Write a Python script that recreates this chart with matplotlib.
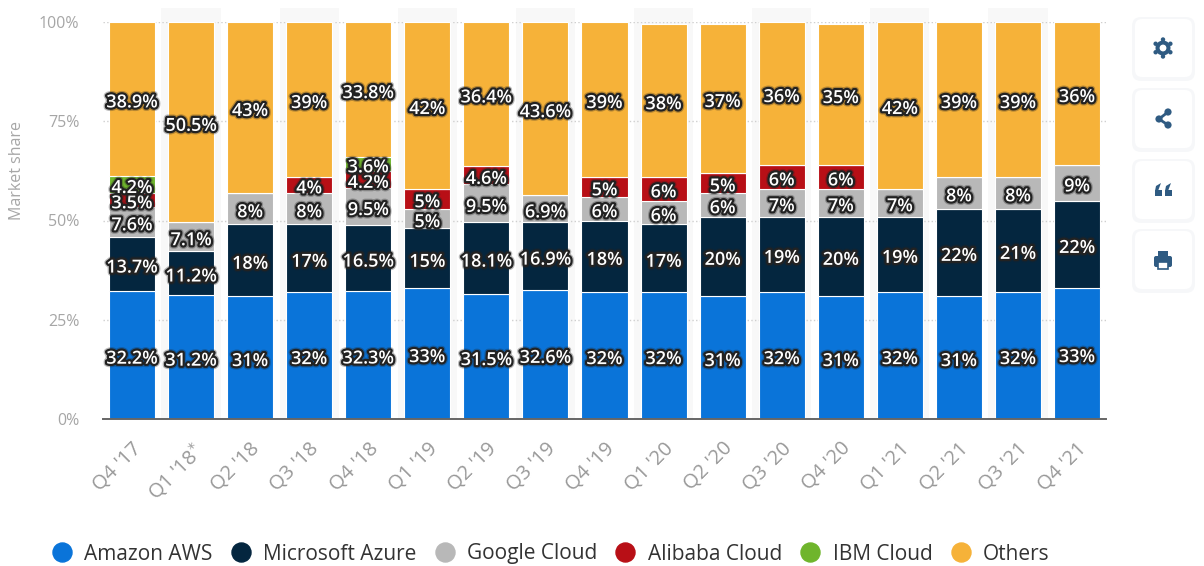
import matplotlib
matplotlib.use("Agg")
import matplotlib.pyplot as plt
import matplotlib.patheffects as pe
from matplotlib.lines import Line2D
from matplotlib.patches import Circle, FancyBboxPatch, Rectangle, Polygon
import numpy as np

plt.rcParams["font.family"] = ["Open Sans", "DejaVu Sans"]

quarters = ["Q4 '17", "Q1 '18$^{*}$", "Q2 '18", "Q3 '18", "Q4 '18", "Q1 '19", "Q2 '19", "Q3 '19", "Q4 '19",
            "Q1 '20", "Q2 '20", "Q3 '20", "Q4 '20", "Q1 '21", "Q2 '21", "Q3 '21", "Q4 '21"]
aws = [32.2, 31.2, 31, 32, 32.3, 33, 31.5, 32.6, 32, 32, 31, 32, 31, 32, 31, 32, 33]
azure = [13.7, 11.2, 18, 17, 16.5, 15, 18.1, 16.9, 18, 17, 20, 19, 20, 19, 22, 21, 22]
google = [7.6, 7.1, 8, 8, 9.5, 5, 9.5, 6.9, 6, 6, 6, 7, 7, 7, 8, 8, 9]
alibaba = [3.5, 0, 0, 4, 4.2, 5, 4.6, 0, 5, 6, 5, 6, 6, 0, 0, 0, 0]
ibm = [4.2, 0, 0, 0, 3.6, 0, 0, 0, 0, 0, 0, 0, 0, 0, 0, 0, 0]
# bar heights as drawn; the printed labels are rounded in three quarters
others = [38.9, 50.5, 43, 39, 33.8, 42, 36.4, 43.6, 39, 38.4, 37.5, 36, 35.5, 42, 39, 39, 36]
others_labels = ["38.9%", "50.5%", "43%", "39%", "33.8%", "42%", "36.4%", "43.6%", "39%",
                 "38%", "37%", "36%", "35%", "42%", "39%", "39%", "36%"]

series = [
    ("Amazon AWS", aws, "#0a74d9"),
    ("Microsoft Azure", azure, "#04263f"),
    ("Google Cloud", google, "#b8b8b8"),
    ("Alibaba Cloud", alibaba, "#b80f16"),
    ("IBM Cloud", ibm, "#6fb52c"),
    ("Others", others, "#f6b239"),
]

W, H = 1204, 566
fig = plt.figure(figsize=(W / 100, H / 100), dpi=100, facecolor="white")

# axes box in pixels: left 103, right 1106, baseline 419, 100% at 22
ax = fig.add_axes([103 / W, (H - 419) / H, (1106 - 103) / W, (419 - 22) / H])
x = np.arange(len(quarters))
ax.set_xlim(-0.49, 16.49)
ax.set_ylim(0, 100)

# alternating column bands
for i in x[1::2]:
    ax.axvspan(i - 0.5, i + 0.5, ymin=0, ymax=1.035, color="#f8f8f8", lw=0, zorder=0, clip_on=False)

ax.set_yticks([0, 25, 50, 75, 100])
ax.set_yticklabels(["0%", "25%", "50%", "75%", "100%"])
ax.yaxis.grid(True, color="#cfcfcf", ls=":", lw=1, zorder=1)
ax.set_axisbelow(True)

halo = [pe.withStroke(linewidth=5, foreground="#222222", alpha=0.3),
        pe.withStroke(linewidth=3.2, foreground="#222222")]

bottom = np.zeros(len(quarters))
for name, vals, col in series:
    vals = np.array(vals, dtype=float)
    ax.bar(x, vals, 0.78, bottom=bottom, color=col, edgecolor="white", linewidth=0.8, zorder=2)
    for xi, b, v in zip(x, bottom, vals):
        if v > 0:
            txt = others_labels[xi] if name == "Others" else f"{v:g}%"
            ax.annotate(txt, (xi, b + v / 2), xytext=(0, -2.6), textcoords="offset points",
                        ha="center", va="center", color="white", fontsize=13,
                        fontweight="semibold", zorder=5, path_effects=halo)
    bottom += vals

for s in ["top", "right", "left"]:
    ax.spines[s].set_visible(False)
ax.spines["bottom"].set_color("#666666")
ax.spines["bottom"].set_linewidth(1.4)
ax.spines["bottom"].set_zorder(6)

ax.set_xticks(x)
ax.set_xticklabels(quarters, rotation=45, ha="right", rotation_mode="anchor")
ax.tick_params(axis="x", length=0, pad=14, labelsize=14.5, labelcolor="#999999")
ax.tick_params(axis="y", length=0, pad=17, labelsize=11.5, labelcolor="#a6a6a6")
ax.set_ylabel("Market share", fontsize=11.5, color="#a6a6a6", labelpad=0)
ax.yaxis.set_label_coords((25 - 103) / (1106 - 103), 0.627)

handles = [Line2D([], [], ls="", marker="o", ms=13.7, mfc=c, mec=c, label=n) for n, _, c in series]
fig.legend(handles=handles, ncol=6, frameon=False, loc="center left",
           bbox_to_anchor=(47 / W, (H - 554) / H), prop={"size": 15, "weight": "medium"}, labelcolor="#333333",
           handletextpad=0.38, columnspacing=0.65, handlelength=1.4, borderpad=0, borderaxespad=0)

# toolbar buttons on the right, drawn in pixel coordinates
ui = fig.add_axes([0, 0, 1, 1], zorder=10)
ui.set_xlim(0, W)
ui.set_ylim(H, 0)
ui.axis("off")
ui.patch.set_alpha(0)
icon = "#2f5b82"
for top in [19, 90, 161, 231]:
    ui.add_patch(FancyBboxPatch((1132, top - 2), 63, 64, boxstyle="round,pad=0,rounding_size=9",
                                fc="#f4f6f8", ec="none", alpha=0.8))
    ui.add_patch(FancyBboxPatch((1135, top), 57, 58, boxstyle="round,pad=0,rounding_size=7",
                                fc="white", ec="none"))

# gear
ui.add_patch(Circle((1163, 48), 7.5, fc=icon, ec="none"))
for a in np.arange(0, 360, 60):
    px, py = 1163 + 8.5 * np.cos(np.radians(a + 30)), 48 + 8.5 * np.sin(np.radians(a + 30))
    ui.add_patch(Circle((px, py), 2.2, fc=icon, ec="none"))
ui.add_patch(Circle((1163, 48), 3.4, fc="white", ec="none"))
# share
ui.plot([1168, 1159, 1168], [112, 119, 125], color=icon, lw=2)
for px, py, r in [(1168, 112, 3.6), (1159, 119, 3.6), (1168, 125, 3.6)]:
    ui.add_patch(Circle((px, py), r, fc=icon, ec="none"))
# quote marks
for px in [1155, 1165]:
    ui.add_patch(Rectangle((px, 190), 7, 6, fc=icon, ec="none"))
    ui.add_patch(Polygon([(px, 191), (px + 1, 186), (px + 6, 183), (px + 3, 191)], fc=icon, ec="none"))
# printer
ui.add_patch(FancyBboxPatch((1154, 256), 18, 11, boxstyle="round,pad=0,rounding_size=2", fc=icon, ec="none"))
ui.add_patch(Rectangle((1158, 251), 10, 5, fc=icon, ec="none"))
ui.add_patch(Rectangle((1158, 262), 10, 7, fc="white", ec=icon, lw=1.2))

fig.savefig("out.png", dpi=100)
